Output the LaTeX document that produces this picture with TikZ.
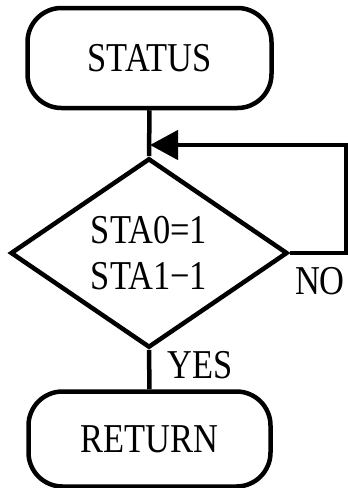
\documentclass[tikz,border=0pt]{standalone}
\usepackage{fontspec}
\setmainfont{Liberation Serif}[FakeStretch=0.84]
\usetikzlibrary{arrows.meta,shapes.geometric}
\tikzset{
  ln/.style={line width=4.5pt},
  term/.style={draw, line width=4.5pt, rounded corners=34pt, inner sep=0pt,
    font=\fontsize{41}{46}\selectfont},
  decision/.style={draw, diamond, line width=4.5pt, inner sep=0pt, align=center,
    font=\fontsize{41}{45.5}\selectfont},
  lbl/.style={inner sep=0pt, font=\fontsize{41}{46}\selectfont},
}
\begin{document}
\begin{tikzpicture}[x=1pt,y=-1pt]
\useasboundingbox (0,0) rectangle (348,488);
\node[term, minimum width=244pt, minimum height=100pt] (status) at (149.5,58) {STATUS};
\node[decision, minimum width=277pt, minimum height=170pt] (dec) at (149,253) {STA0=1\\STA1\char"2212 1};
\node[term, minimum width=242pt, minimum height=95pt] (ret) at (149.5,439) {RETURN};
\coordinate (c1) at (346,253);
\coordinate (c2) at (346,145);
\coordinate (join) at (150,145);
\draw[ln] (status.south) -- (dec.north);
\draw[ln, -{Triangle[length=28pt,width=29pt]}] (dec.east) -- (c1) -- (c2) -- (join);
\draw[ln] (dec.south) -- (ret.north);
\node[lbl] (no) at (320,281) {NO};
\node[lbl] (yes) at (200,365) {YES};
\end{tikzpicture}
\end{document}
